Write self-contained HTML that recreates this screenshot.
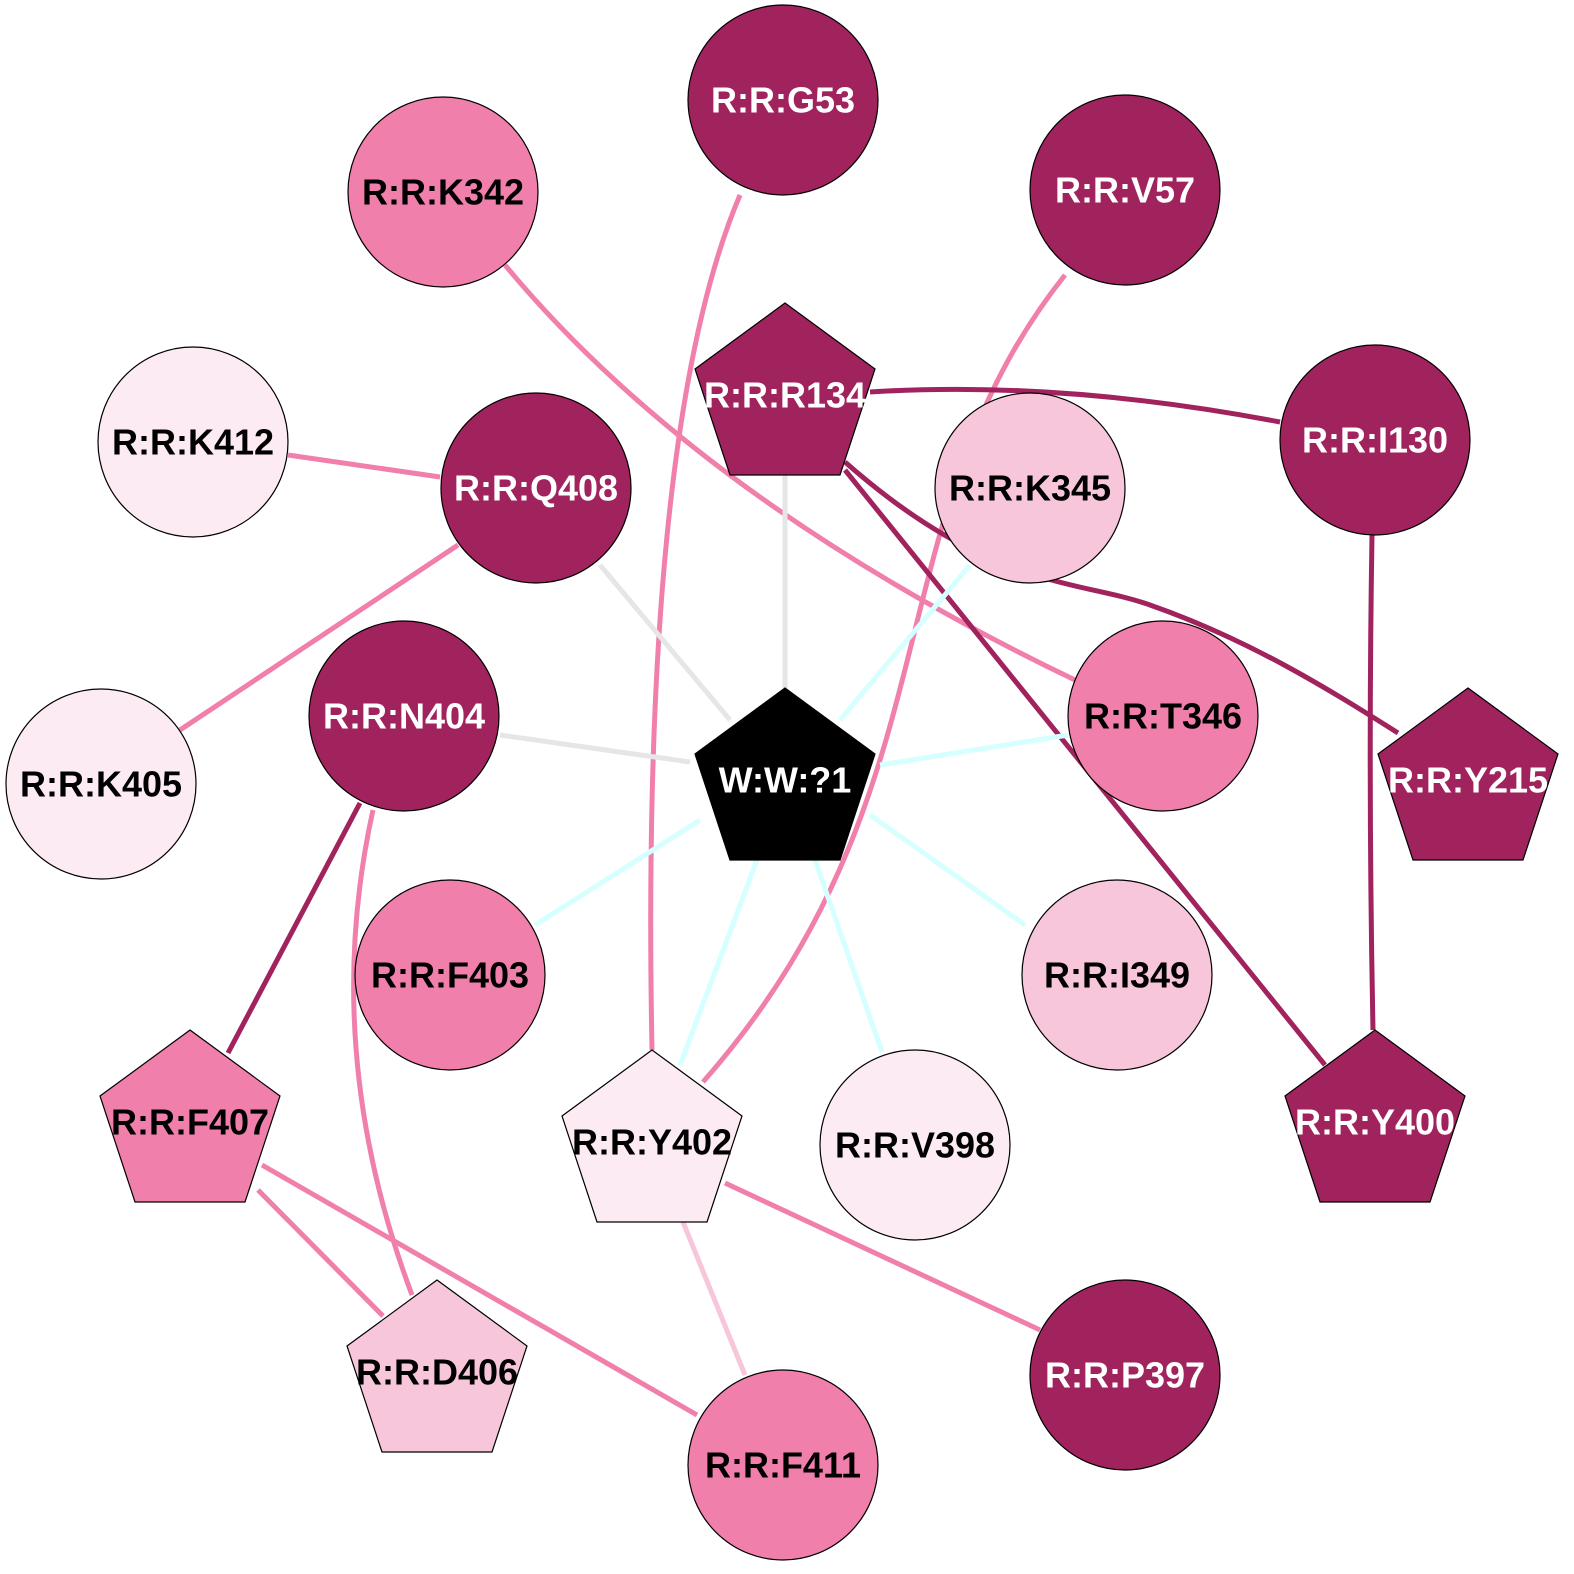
<!DOCTYPE html>
<html><head><meta charset="utf-8"><style>html,body{margin:0;padding:0;background:#fff}svg{display:block}text{font-family:"Liberation Sans",Arial,sans-serif;font-weight:bold;font-size:36px;text-anchor:middle;dominant-baseline:central}</style></head>
<body>
<svg width="1574" height="1574" viewBox="0 0 1574 1574" xmlns="http://www.w3.org/2000/svg">
<g fill="none" stroke-width="5">
<path d="M740,195 Q640,430 652,1050" stroke="#F07FAB"/>
<path d="M1065,275 C870,520 960,790 703,1082" stroke="#F07FAB"/>
<path d="M505,265 Q700,500 1075,680" stroke="#F07FAB"/>
<path d="M870,392 Q1060,380 1280,422" stroke="#A0235E"/>
<path d="M845,462 C990,590 1080,580 1150,605 C1250,640 1330,690 1398,733" stroke="#A0235E"/>
<path d="M845,470 L1325,1065" stroke="#A0235E"/>
<path d="M1372,535 Q1368,780 1373,1030" stroke="#A0235E"/>
<path d="M288,455 L440,477" stroke="#F07FAB"/>
<path d="M458,545 L180,730" stroke="#F07FAB"/>
<path d="M600,565 L730,720" stroke="#E6E6E6"/>
<path d="M785,475 L785,688" stroke="#E6E6E6"/>
<path d="M500,735 L690,762" stroke="#E6E6E6"/>
<path d="M840,720 L970,565" stroke="#D6FFFF"/>
<path d="M880,765 L1068,735" stroke="#D6FFFF"/>
<path d="M700,820 L535,925" stroke="#D6FFFF"/>
<path d="M870,815 L1025,925" stroke="#D6FFFF"/>
<path d="M815,860 L882,1052" stroke="#D6FFFF"/>
<path d="M757,860 L680,1065" stroke="#D6FFFF"/>
<path d="M360,803 L228,1053" stroke="#A0235E"/>
<path d="M373,810 Q320,1050 412,1295" stroke="#F07FAB"/>
<path d="M258,1190 L383,1316" stroke="#F07FAB"/>
<path d="M262,1165 L697,1415" stroke="#F07FAB"/>
<path d="M725,1183 L1040,1330" stroke="#F07FAB"/>
<path d="M683,1222 L745,1375" stroke="#F8C6DB"/>
</g>
<g stroke="#000" stroke-width="1.2">
<circle cx="783" cy="100" r="95" fill="#A0235E"/>
<circle cx="443" cy="192" r="95" fill="#F07FAB"/>
<circle cx="1125" cy="190" r="95" fill="#A0235E"/>
<circle cx="1375" cy="440" r="95" fill="#A0235E"/>
<circle cx="193" cy="442" r="95" fill="#FCEBF3"/>
<circle cx="536" cy="488" r="95" fill="#A0235E"/>
<circle cx="1030" cy="488" r="95" fill="#F8C6DB"/>
<circle cx="1163" cy="716" r="95" fill="#F07FAB"/>
<circle cx="101" cy="784" r="95" fill="#FCEBF3"/>
<circle cx="404" cy="716" r="95" fill="#A0235E"/>
<circle cx="450" cy="975" r="95" fill="#F07FAB"/>
<circle cx="1117" cy="975" r="95" fill="#F8C6DB"/>
<circle cx="915" cy="1145" r="95" fill="#FCEBF3"/>
<circle cx="1125" cy="1375" r="95" fill="#A0235E"/>
<circle cx="783" cy="1465" r="95" fill="#F07FAB"/>
<polygon points="785,303 875,369 840,475 730,475 695,369" fill="#A0235E"/>
<polygon points="785,688 875,754 840,860 730,860 695,754" fill="#000"/>
<polygon points="1468,688 1558,754 1523,860 1413,860 1378,754" fill="#A0235E"/>
<polygon points="1375,1030 1465,1096 1430,1202 1320,1202 1285,1096" fill="#A0235E"/>
<polygon points="190,1030 280,1096 245,1202 135,1202 100,1096" fill="#F07FAB"/>
<polygon points="652,1050 742,1116 707,1222 597,1222 562,1116" fill="#FCEBF3"/>
<polygon points="437,1280 527,1346 492,1452 382,1452 347,1346" fill="#F8C6DB"/>
</g>
<g>
<text x="783" y="100" fill="#fff">R:R:G53</text>
<text x="443" y="192" fill="#000">R:R:K342</text>
<text x="1125" y="190" fill="#fff">R:R:V57</text>
<text x="1375" y="440" fill="#fff">R:R:I130</text>
<text x="193" y="442" fill="#000">R:R:K412</text>
<text x="536" y="488" fill="#fff">R:R:Q408</text>
<text x="1030" y="488" fill="#000">R:R:K345</text>
<text x="1163" y="716" fill="#000">R:R:T346</text>
<text x="101" y="784" fill="#000">R:R:K405</text>
<text x="404" y="716" fill="#fff">R:R:N404</text>
<text x="450" y="975" fill="#000">R:R:F403</text>
<text x="1117" y="975" fill="#000">R:R:I349</text>
<text x="915" y="1145" fill="#000">R:R:V398</text>
<text x="1125" y="1375" fill="#fff">R:R:P397</text>
<text x="783" y="1465" fill="#000">R:R:F411</text>
<text x="785" y="395" fill="#fff">R:R:R134</text>
<text x="785" y="780" fill="#fff">W:W:?1</text>
<text x="1468" y="780" fill="#fff">R:R:Y215</text>
<text x="1375" y="1122" fill="#fff">R:R:Y400</text>
<text x="190" y="1122" fill="#000">R:R:F407</text>
<text x="652" y="1142" fill="#000">R:R:Y402</text>
<text x="437" y="1372" fill="#000">R:R:D406</text>
</g>
</svg>
</body></html>
